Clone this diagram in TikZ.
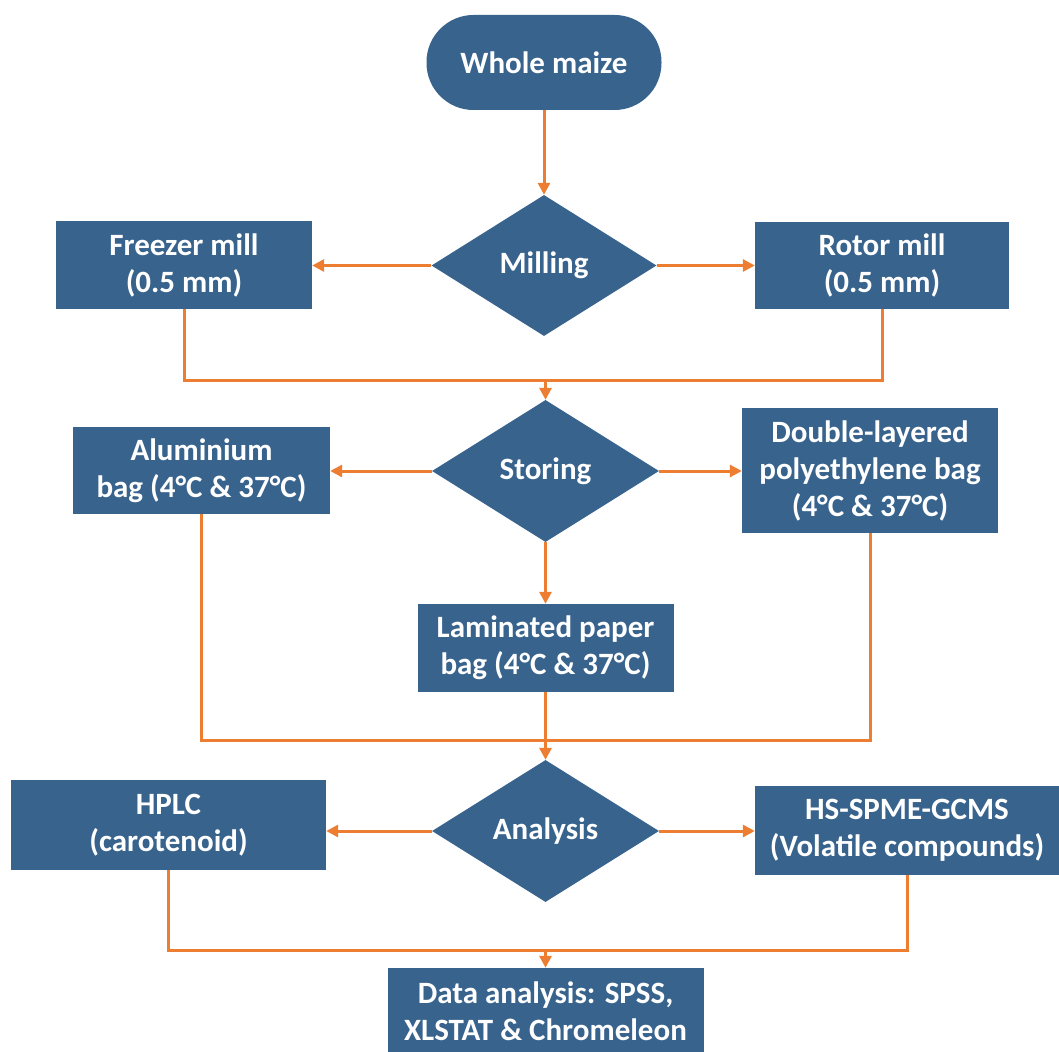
\documentclass[tikz,border=0pt]{standalone}
\usepackage{fontspec}
\setmainfont{Carlito}
\usetikzlibrary{shapes.geometric,arrows.meta}
\definecolor{boxblue}{RGB}{56,99,141}
\definecolor{arrorange}{RGB}{237,125,49}
\begin{document}
\begin{tikzpicture}[x=1pt,y=-1pt,
  every node/.style={font=\fontsize{31}{37}\selectfont\bfseries, text=white, align=center, inner sep=0pt},
  boxnode/.style={rectangle, fill=boxblue},
  decision/.style={diamond, fill=boxblue, aspect=1.6},
  flow/.style={draw=arrorange, line width=3pt},
  flowarr/.style={flow, -{Triangle[length=12pt,width=12pt]}}]
\useasboundingbox (0,0) rectangle (1059,1051);
\clip (0,0) rectangle (1059,1051);
% nodes
\node[boxnode, rounded corners=47pt, minimum width=235pt, minimum height=95pt] (whole) at (544,62.5) {Whole maize};
\node[decision, minimum width=225pt, minimum height=141pt] (milling) at (544,265.5) {Milling};
\node[boxnode, minimum width=256pt, minimum height=88pt] (freezer) at (184,265) {Freezer mill\\(0.5 mm)};
\node[boxnode, minimum width=254pt, minimum height=87pt] (rotor) at (882,265.5) {Rotor mill\\(0.5 mm)};
\node[decision, minimum width=227pt, minimum height=142pt] (storing) at (545.5,471) {Storing};
\node[boxnode, minimum width=257pt, minimum height=87pt] (alu) at (201.5,470.5) {Aluminium\\bag (4°C \& 37°C)};
\node[boxnode, minimum width=256pt, minimum height=125pt] (double) at (870,470.5) {Double-layered\\polyethylene bag\\(4°C \& 37°C)};
\node[boxnode, minimum width=256pt, minimum height=88pt] (lam) at (545.5,648) {Laminated paper\\bag (4°C \& 37°C)};
\node[decision, minimum width=227pt, minimum height=142pt] (analysis) at (545.5,831) {Analysis};
\node[boxnode, minimum width=315pt, minimum height=90pt] (hplc) at (168.5,825) {HPLC\\(carotenoid)};
\node[boxnode, minimum width=304pt, minimum height=89pt] (hs) at (907,830.5) {HS-SPME-GCMS\\(Volatile compounds)};
\node[boxnode, minimum width=316pt, minimum height=86pt] (data) at (545.5,1011) {Data analysis: SPSS,\\XLSTAT \& Chromeleon};
% junctions
\coordinate (j1) at (545.5,380);
\coordinate (j2) at (545.5,740);
\coordinate (j3) at (545.5,950);
% connectors
\draw[flowarr] (whole.south) -- (milling.north);
\draw[flowarr] (milling.west) -- (milling.west -| freezer.east);
\draw[flowarr] (milling.east) -- (milling.east -| rotor.west);
\draw[flow] (freezer.south) |- (j1) -| (rotor.south);
\draw[flowarr] (j1) -- (storing.north);
\draw[flowarr] (storing.west) -- (storing.west -| alu.east);
\draw[flowarr] (storing.east) -- (storing.east -| double.west);
\draw[flowarr] (storing.south) -- (lam.north);
\draw[flow] (alu.south) |- (j2) -| (double.south);
\draw[flow] (lam.south) -- (j2);
\draw[flowarr] (j2) -- (analysis.north);
\draw[flowarr] (analysis.west) -- (analysis.west -| hplc.east);
\draw[flowarr] (analysis.east) -- (analysis.east -| hs.west);
\draw[flow] (hplc.south) |- (j3) -| (hs.south);
\draw[flowarr] (j3) -- (data.north);
\end{tikzpicture}
\end{document}
